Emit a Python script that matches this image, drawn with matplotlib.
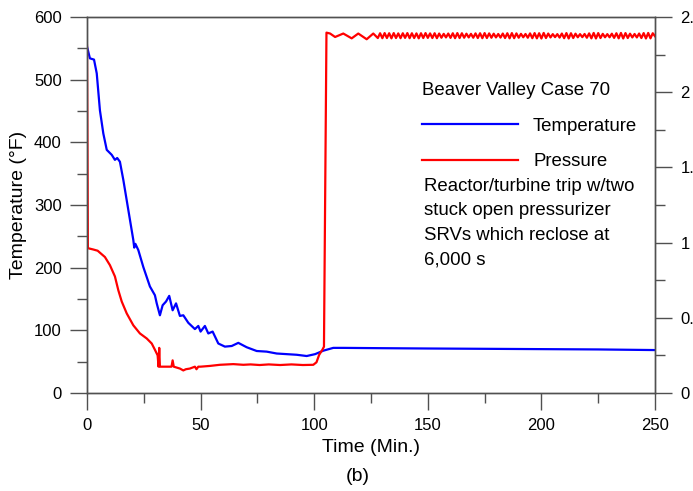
import matplotlib
matplotlib.use("Agg")
import matplotlib.pyplot as plt
from matplotlib.ticker import MultipleLocator

plt.rcParams['font.family'] = ['Liberation Sans', 'DejaVu Sans']

# temperature (deg F) vs time (min)
temp_t = [0, 1.3, 3.1, 4.3, 5.7, 7.2, 8.7, 10.9, 12.3, 13.3, 14.5, 16.0, 18.2, 20.4, 20.8,
          21.3, 22.6, 24.8, 27.7, 29.9, 30.7, 32.1, 33.3, 34.8, 36.2, 37.7, 39.2, 40.9, 42.4,
          44.6, 47.5, 49.0, 50.0, 51.9, 53.4, 55.3, 57.8, 60.7, 63.7, 66.6, 70.3, 74.7, 79.1,
          83.5, 87.9, 92.3, 96.7, 100.4, 104.0, 108.4, 112.8, 130, 150, 175, 200, 225, 250]
temp_v = [553, 534, 532, 510, 451, 414, 388, 380, 372, 375, 369, 340, 292, 244, 232,
          238, 228, 201, 170, 156, 143, 124, 140, 146, 155, 132, 143, 123, 124,
          112, 102, 107, 98, 107, 95, 98, 79, 74, 75, 80, 73, 67, 66,
          63, 62, 61, 59, 62, 67.5, 72, 72, 71.5, 71, 70.5, 70, 69.5, 68.5]

# pressure (right axis) vs time (min), up to the valve reclosure
pres_t = [0.0, 0.4, 2.8, 4.7, 7.9, 10.1, 12.3, 13.8, 15.3, 17.5, 20.4, 23.3, 26.3, 28.5,
          29.9, 31.1, 31.5, 31.8, 32.1, 32.4, 35.0, 37.2, 37.7, 38.2, 40.9, 42.4, 43.5,
          45.3, 47.5, 48.2, 49.0, 50.0, 52.8, 54.1, 58.5, 64.4, 68.8, 72.0, 76.0, 80.0,
          85.0, 90.0, 95.0, 99.6, 101.0, 102.2, 103.6, 104.3, 105.4, 107.0, 109.2, 112.8,
          116.5, 119.4, 123.1, 126.0, 127.0]
pres_v = [2.31, 0.963, 0.954, 0.946, 0.904, 0.85, 0.775, 0.683, 0.608, 0.529, 0.45, 0.396,
          0.3625, 0.329, 0.2875, 0.25, 0.175, 0.30, 0.175, 0.175, 0.175, 0.175, 0.217,
          0.175, 0.1625, 0.15, 0.158, 0.1625, 0.175, 0.158, 0.175, 0.175, 0.178, 0.18,
          0.1875, 0.192, 0.1875, 0.19, 0.186, 0.19, 0.186, 0.19, 0.186, 0.1875, 0.204,
          0.254, 0.2875, 0.308, 2.396, 2.39, 2.367, 2.39, 2.358, 2.39, 2.352, 2.39, 2.375]

# pressure oscillation after reclosure
osc_t = [128, 129, 130, 131, 132, 133, 134, 135, 136, 137, 138, 139, 140, 141, 142, 143,
         144, 145, 146, 147, 148, 149, 150, 151, 152, 153, 154, 155, 156, 157, 158, 159,
         160, 161, 162, 163, 164, 165, 166, 167, 168, 169, 170, 171, 172, 173, 174, 175,
         176, 177, 178, 179, 180, 181, 182, 183, 184, 185, 186, 187, 188, 189, 190, 191,
         192, 193, 194, 195, 196, 197, 198, 199, 200, 201, 202, 203, 204, 205, 206, 207,
         208, 209, 210, 211, 212, 213, 214, 215, 216, 217, 218, 219, 220, 221, 222, 223,
         224, 225, 226, 227, 228, 229, 230, 231, 232, 233, 234, 235, 236, 237, 238, 239,
         240, 241, 242, 243, 244, 245, 246, 247, 248, 249, 250]
osc_v = [2.360, 2.392, 2.359, 2.393, 2.360, 2.392, 2.358, 2.393, 2.360, 2.391, 2.359, 2.392,
         2.361, 2.393, 2.359, 2.392, 2.360, 2.391, 2.358, 2.392, 2.360, 2.393, 2.361, 2.391,
         2.360, 2.392, 2.359, 2.390, 2.362, 2.388, 2.364, 2.390, 2.361, 2.392, 2.359, 2.393,
         2.360, 2.392, 2.362, 2.389, 2.364, 2.388, 2.362, 2.391, 2.360, 2.392, 2.359, 2.393,
         2.360, 2.391, 2.362, 2.389, 2.364, 2.387, 2.363, 2.390, 2.360, 2.392, 2.358, 2.393,
         2.359, 2.391, 2.362, 2.388, 2.365, 2.387, 2.362, 2.391, 2.359, 2.393, 2.358, 2.392,
         2.357, 2.394, 2.360, 2.390, 2.364, 2.386, 2.366, 2.386, 2.363, 2.390, 2.359, 2.393,
         2.357, 2.392, 2.360, 2.389, 2.365, 2.386, 2.366, 2.387, 2.362, 2.391, 2.358, 2.394,
         2.357, 2.393, 2.360, 2.388, 2.365, 2.386, 2.365, 2.389, 2.361, 2.392, 2.358, 2.394,
         2.357, 2.393, 2.360, 2.389, 2.364, 2.387, 2.364, 2.390, 2.360, 2.393, 2.357, 2.394,
         2.358, 2.392, 2.372]

y2_ticks = [0, 0.5, 1, 1.5, 2, 2.5]
y2_labels = ['0', '0.5', '1', '1.5', '2', '2.5']

fig = plt.figure(figsize=(6.93, 4.91), dpi=100)
ax = fig.add_axes([0.1255, 0.1996, 0.8197, 0.7658])
ax2 = ax.twinx()

edge = '#505050'
for a in (ax, ax2):
    for s in a.spines.values():
        s.set_color(edge)
        s.set_linewidth(1.0)
    a.tick_params(which='major', direction='out', length=12.2, width=1.0, color=edge,
                  labelsize=12, pad=6)
    a.tick_params(which='minor', direction='out', length=7, width=1.0, color=edge)

line_t, = ax.plot(temp_t, temp_v, color='#0000ff', lw=1.6, label='Temperature')
line_p, = ax2.plot(pres_t + osc_t, pres_v + osc_v, color='#ff0000', lw=1.6, label='Pressure')

ax.set_xlim(0, 250)
ax.set_ylim(0, 600)
ax.xaxis.set_major_locator(MultipleLocator(50))
ax.xaxis.set_minor_locator(MultipleLocator(25))
ax.yaxis.set_major_locator(MultipleLocator(100))
ax.yaxis.set_minor_locator(MultipleLocator(50))
ax.set_xlabel('Time (Min.)', fontsize=14, labelpad=4)
ax.set_ylabel('Temperature (°F)', fontsize=14, labelpad=5)

ax2.set_ylim(0, 2.5)
ax2.set_yticks(y2_ticks)
ax2.set_yticklabels(y2_labels)
ax2.yaxis.set_minor_locator(MultipleLocator(0.25))

leg = ax2.legend(handles=[line_t, line_p], title='Beaver Valley Case 70',
                 loc='upper left', bbox_to_anchor=(0.59, 0.827), frameon=False,
                 fontsize=13.4, title_fontsize=13.4, handlelength=5.16, handletextpad=0.8,
                 labelspacing=1.0, borderpad=0, borderaxespad=0, alignment='left')

ax2.text(0.593, 0.572, 'Reactor/turbine trip w/two\nstuck open pressurizer\nSRVs which reclose at\n6,000 s',
         transform=ax2.transAxes, fontsize=13.4, va='top', ha='left', linespacing=1.57)

fig.text(0.516, 0.029, '(b)', fontsize=14, ha='center', va='center')

fig.savefig('out.png', dpi=100)
